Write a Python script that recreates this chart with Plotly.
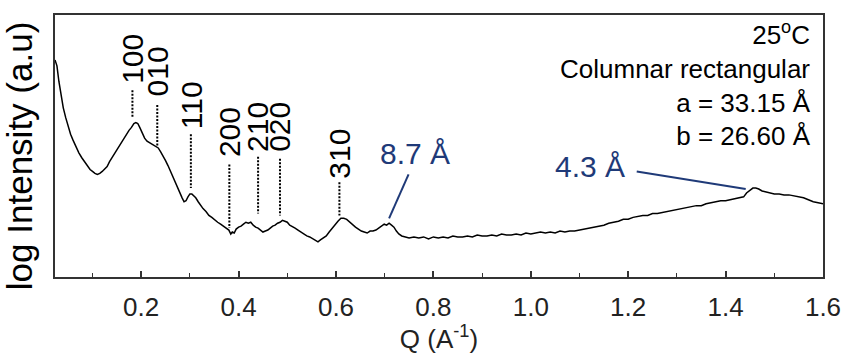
import plotly.graph_objects as go

# Scattering vector Q (1/Å) and log intensity (arbitrary units)
q = [0.023, 0.027, 0.031, 0.035, 0.040, 0.045, 0.050, 0.055, 0.060, 0.066,
     0.072, 0.078, 0.084, 0.090, 0.095, 0.100, 0.105, 0.110, 0.115, 0.120,
     0.125, 0.130, 0.135, 0.140, 0.145, 0.150, 0.155, 0.160, 0.165, 0.170,
     0.175, 0.180, 0.185, 0.189, 0.193, 0.197, 0.202, 0.207, 0.212, 0.218,
     0.224, 0.230, 0.235, 0.240, 0.245, 0.250, 0.255, 0.260, 0.265, 0.270,
     0.275, 0.280, 0.284, 0.288, 0.292, 0.296, 0.300, 0.304, 0.308, 0.312,
     0.317, 0.322, 0.327, 0.333, 0.339, 0.345, 0.351, 0.357, 0.363, 0.369,
     0.375, 0.380, 0.384, 0.387, 0.391, 0.395, 0.400, 0.405, 0.410, 0.415,
     0.420, 0.425, 0.430, 0.435, 0.440, 0.445, 0.450, 0.455, 0.460, 0.465,
     0.470, 0.475, 0.480, 0.485, 0.490, 0.495, 0.500, 0.505, 0.510, 0.516,
     0.522, 0.528, 0.534, 0.540, 0.546, 0.552, 0.558, 0.563, 0.568, 0.574,
     0.580, 0.586, 0.592, 0.598, 0.604, 0.610, 0.616, 0.622, 0.628, 0.634,
     0.640, 0.646, 0.652, 0.658, 0.664, 0.670, 0.676, 0.682, 0.688, 0.694,
     0.699, 0.704, 0.709, 0.714, 0.719, 0.724, 0.729, 0.735, 0.742, 0.750,
     0.760, 0.770, 0.780, 0.790, 0.800, 0.810, 0.820, 0.830, 0.840, 0.850,
     0.860, 0.870, 0.880, 0.890, 0.900, 0.910, 0.920, 0.930, 0.940, 0.950,
     0.960, 0.970, 0.980, 0.990, 1.000, 1.010, 1.020, 1.030, 1.040, 1.050,
     1.060, 1.070, 1.080, 1.090, 1.100, 1.110, 1.120, 1.130, 1.140, 1.150,
     1.160, 1.170, 1.180, 1.190, 1.200, 1.210, 1.220, 1.230, 1.240, 1.250,
     1.260, 1.270, 1.280, 1.290, 1.300, 1.310, 1.320, 1.330, 1.340, 1.350,
     1.360, 1.370, 1.380, 1.390, 1.400, 1.410, 1.420, 1.430, 1.437, 1.443,
     1.450, 1.456, 1.462, 1.468, 1.475, 1.482, 1.490, 1.500, 1.510, 1.520,
     1.530, 1.540, 1.550, 1.560, 1.570, 1.580, 1.590, 1.600]
log_intensity = [
     2.22, 2.16, 2.00, 1.86, 1.73, 1.63, 1.54, 1.46, 1.40, 1.33,
     1.27, 1.22, 1.18, 1.13, 1.10, 1.08, 1.06, 1.05, 1.06, 1.08,
     1.10, 1.13, 1.18, 1.22, 1.26, 1.30, 1.34, 1.39, 1.43, 1.46,
     1.50, 1.53, 1.57, 1.58, 1.57, 1.53, 1.47, 1.42, 1.39, 1.37,
     1.35, 1.33, 1.32, 1.28, 1.24, 1.19, 1.14, 1.08, 1.03, 0.97,
     0.92, 0.86, 0.81, 0.77, 0.78, 0.82, 0.85, 0.85, 0.83, 0.81,
     0.77, 0.73, 0.70, 0.67, 0.63, 0.61, 0.58, 0.56, 0.54, 0.52,
     0.50, 0.48, 0.44, 0.46, 0.45, 0.49, 0.51, 0.52, 0.54, 0.56,
     0.55, 0.56, 0.53, 0.51, 0.50, 0.48, 0.46, 0.47, 0.48, 0.50,
     0.52, 0.53, 0.55, 0.56, 0.58, 0.57, 0.56, 0.53, 0.52, 0.50,
     0.48, 0.46, 0.44, 0.42, 0.41, 0.39, 0.37, 0.36, 0.38, 0.40,
     0.42, 0.46, 0.50, 0.54, 0.57, 0.60, 0.60, 0.59, 0.56, 0.54,
     0.51, 0.49, 0.47, 0.46, 0.45, 0.47, 0.47, 0.48, 0.50, 0.52,
     0.54, 0.53, 0.55, 0.53, 0.51, 0.47, 0.44, 0.42, 0.41, 0.40,
     0.41, 0.40, 0.41, 0.39, 0.41, 0.40, 0.41, 0.40, 0.42, 0.41,
     0.41, 0.42, 0.41, 0.43, 0.42, 0.42, 0.43, 0.42, 0.44, 0.43,
     0.43, 0.44, 0.43, 0.45, 0.44, 0.45, 0.46, 0.45, 0.46, 0.45,
     0.47, 0.46, 0.47, 0.47, 0.48, 0.49, 0.50, 0.51, 0.52, 0.53,
     0.55, 0.56, 0.57, 0.59, 0.59, 0.61, 0.62, 0.63, 0.63, 0.65,
     0.65, 0.66, 0.67, 0.68, 0.69, 0.70, 0.71, 0.72, 0.73, 0.73,
     0.75, 0.76, 0.77, 0.78, 0.78, 0.79, 0.80, 0.81, 0.82, 0.86,
     0.89, 0.91, 0.91, 0.90, 0.88, 0.87, 0.86, 0.85, 0.85, 0.84,
     0.84, 0.83, 0.82, 0.81, 0.79, 0.77, 0.76, 0.75]

# Miller-index assignments of the columnar rectangular lattice
miller_labels = ["100", "010", "110", "200", "210", "020", "310"]
miller_q = [0.182, 0.233, 0.302, 0.381, 0.440, 0.485, 0.607]
miller_line_top = [1.91, 1.76, 1.46, 1.15, 1.23, 1.21, 0.97]
miller_line_bottom = [1.63, 1.33, 0.91, 0.50, 0.65, 0.63, 0.63]
miller_label_y = [1.97, 1.84, 1.50, 1.22, 1.27, 1.27, 1.00]

# d-spacing callouts: text, text position, leader line end points
callout_text = ["8.7 Å", "4.3 Å"]
callout_q = [0.762, 1.122]
callout_y = [1.26, 1.13]
leader_q = [[0.749, 0.709], [1.2175, 1.4413]]
leader_y = [[1.05, 0.60], [1.08, 0.90]]

x_ticks = [0.2, 0.4, 0.6, 0.8, 1.0, 1.2, 1.4, 1.6]
x_tick_text = ["0.2", "0.4", "0.6", "0.8", "1.0", "1.2", "1.4", "1.6"]

FONT = "Arial, Liberation Sans, sans-serif"
NAVY = "#1f3a78"

fig = go.Figure()

fig.add_trace(go.Scatter(x=q, y=log_intensity, mode="lines",
                         line=dict(color="black", width=1.5),
                         showlegend=False, hoverinfo="skip"))

for mq, top, bot in zip(miller_q, miller_line_top, miller_line_bottom):
    fig.add_trace(go.Scatter(x=[mq, mq], y=[top, bot], mode="lines",
                             line=dict(color="black", width=2, dash="2px,1.5px"),
                             showlegend=False, hoverinfo="skip"))

for lq, ly in zip(leader_q, leader_y):
    fig.add_trace(go.Scatter(x=lq, y=ly, mode="lines",
                             line=dict(color=NAVY, width=2),
                             showlegend=False, hoverinfo="skip"))

annotations = []
for lab, mq, ly in zip(miller_labels, miller_q, miller_label_y):
    annotations.append(dict(x=mq, y=ly, xref="x", yref="y", text=lab,
                            textangle=-90, xanchor="center", yanchor="bottom",
                            showarrow=False, borderpad=0,
                            font=dict(family=FONT, size=30, color="black")))

for t, cq, cy in zip(callout_text, callout_q, callout_y):
    annotations.append(dict(x=cq, y=cy, xref="x", yref="y", text=t,
                            xanchor="center", yanchor="middle", showarrow=False,
                            font=dict(family=FONT, size=30, color=NAVY)))

annotations.append(dict(
    x=0.987, y=1.0, xref="paper", yref="paper", xanchor="right", yanchor="top",
    align="right", showarrow=False,
    text="25<sup>o</sup>C<br>Columnar rectangular<br>a = 33.15 Å<br>b = 26.60 Å",
    font=dict(family=FONT, size=26, color="black")))

annotations.append(dict(
    x=-0.046, y=0.46, xref="paper", yref="paper", xanchor="center", yanchor="middle",
    textangle=-90, showarrow=False, text="log Intensity (a.u)",
    font=dict(family=FONT, size=35, color="black")))

fig.update_layout(
    width=853, height=354,
    margin=dict(l=55, r=23, t=15, b=71),
    paper_bgcolor="white", plot_bgcolor="white",
    font=dict(family=FONT, color="black"),
    annotations=annotations,
    xaxis=dict(range=[0.023, 1.6], tickvals=x_ticks, ticktext=x_tick_text,
               ticks="inside", ticklen=6, tickwidth=1.5, tickcolor="#333",
               minor=dict(dtick=0.1, tick0=0, ticks="inside", ticklen=4,
                          tickwidth=1.2, tickcolor="#333"),
               showline=True, linecolor="#333", linewidth=1.8, mirror=True,
               showgrid=False, zeroline=False, ticklabelstandoff=6,
               tickfont=dict(family=FONT, size=26, color="#222"),
               title=dict(text="Q (A<sup>-1</sup>)", standoff=2,
                          font=dict(family=FONT, size=26, color="#222"))),
    yaxis=dict(range=[0, 2.68], showticklabels=False, ticks="",
               showline=True, linecolor="#333", linewidth=1.8, mirror=True,
               showgrid=False, zeroline=False),
)

fig.write_html("out.html")
